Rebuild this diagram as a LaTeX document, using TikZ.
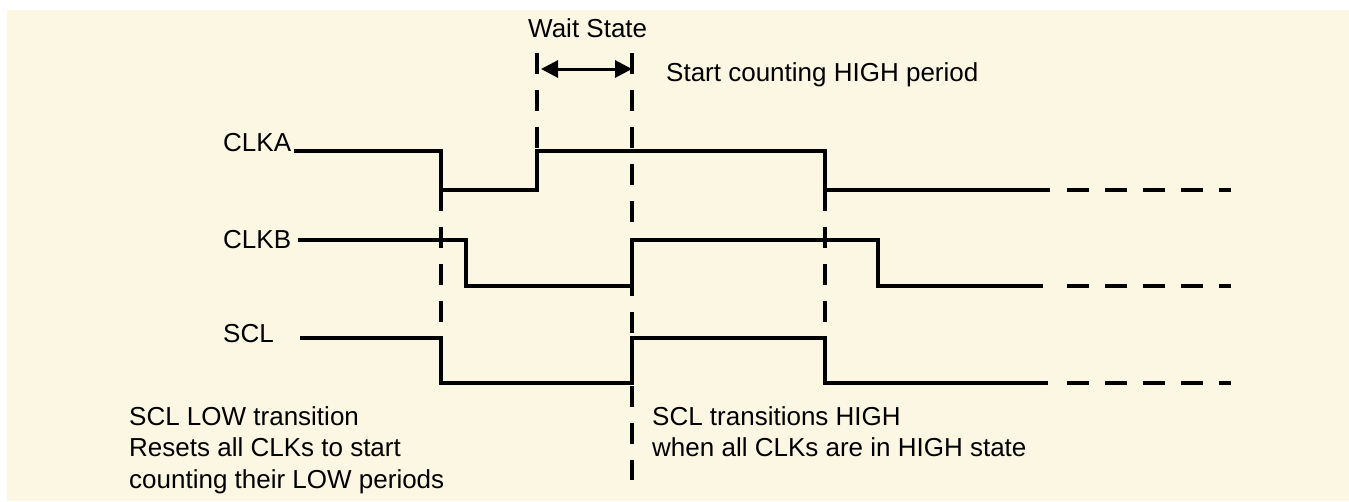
\documentclass[tikz,border=0pt]{standalone}
\usepackage{fontspec}
\setmainfont{Liberation Sans}
\usetikzlibrary{arrows.meta}
\definecolor{bgcream}{RGB}{252,247,227}
\tikzset{
  sig/.style={line width=3.6pt, line cap=butt, line join=miter},
  sigext/.style={line width=3.6pt, dash pattern=on 22pt off 16pt},
  guide/.style={line width=3.4pt, dash pattern=on 21pt off 16pt},
  lbl/.style={inner sep=0pt, anchor=base west, font=\fontsize{26}{31.5}\selectfont},
  note/.style={inner sep=0pt, anchor=base west, align=left, font=\fontsize{26}{31.5}\selectfont},
  waitarrow/.style={line width=3pt, {Triangle[length=17pt,width=17pt]}-{Triangle[length=17pt,width=17pt]}}
}
\begin{document}
\begin{tikzpicture}[x=1pt,y=-1pt]
\useasboundingbox (0,0) rectangle (1349,501);
\fill[bgcream] (7,10) rectangle (1349,501);

% labels
\node[lbl] (wait) at (528,37) {Wait State};
\node[lbl] (start) at (666,81) {Start counting HIGH period};
\node[lbl] (clka) at (223,151) {CLKA};
\node[lbl] (clkb) at (223,248) {CLKB};
\node[lbl] (scl) at (223,342) {SCL};
% multi-line nodes: base anchor is the baseline of the last line
\node[note] (lownote) at (129,488) {SCL LOW transition\\Resets all CLKs to start\\counting their LOW periods};
\node[note] (highnote) at (652,456.5) {SCL transitions HIGH\\when all CLKs are in HIGH state};

% coordinates
\coordinate (a0) at (294,151);
\coordinate (a1) at (441,151);
\coordinate (a2) at (441,190);
\coordinate (a3) at (537,190);
\coordinate (a4) at (537,151);
\coordinate (a5) at (825,151);
\coordinate (a6) at (825,190);
\coordinate (a7) at (1050,190);
\coordinate (a8) at (1067,190);
\coordinate (a9) at (1231,190);

\coordinate (b0) at (298,240);
\coordinate (b1) at (466,240);
\coordinate (b2) at (466,286);
\coordinate (b3) at (632,286);
\coordinate (b4) at (632,240);
\coordinate (b5) at (878,240);
\coordinate (b6) at (878,286);
\coordinate (b7) at (1043,286);
\coordinate (b8) at (1067,286);
\coordinate (b9) at (1231,286);

\coordinate (s0) at (300,338);
\coordinate (s1) at (441,338);
\coordinate (s2) at (441,383);
\coordinate (s3) at (632,383);
\coordinate (s4) at (632,338);
\coordinate (s5) at (825,338);
\coordinate (s6) at (825,383);
\coordinate (s7) at (1048,383);
\coordinate (s8) at (1067,383);
\coordinate (s9) at (1231,383);

\coordinate (g1t) at (537,53);
\coordinate (g2t) at (632,53);
\coordinate (g2b) at (632,480);
\coordinate (w1) at (541,69);
\coordinate (w2) at (632,69);

% signals
\draw[sig] (a0) -- (a1) -- (a2) -- (a3) -- (a4) -- (a5) -- (a6) -- (a7);
\draw[sigext] (a8) -- (a9);
\draw[sig] (b0) -- (b1) -- (b2) -- (b3) -- (b4) -- (b5) -- (b6) -- (b7);
\draw[sigext] (b8) -- (b9);
\draw[sig] (s0) -- (s1) -- (s2) -- (s3) -- (s4) -- (s5) -- (s6) -- (s7);
\draw[sigext] (s8) -- (s9);

% guide lines
\draw[guide] (a2) -- (s1);
\draw[guide] (g1t) -- (a4);
\draw[guide] (g2t) -- (g2b);
\draw[guide] (a6) -- (s5);

% wait state arrow
\draw[waitarrow] (w1) -- (w2);
\end{tikzpicture}
\end{document}
